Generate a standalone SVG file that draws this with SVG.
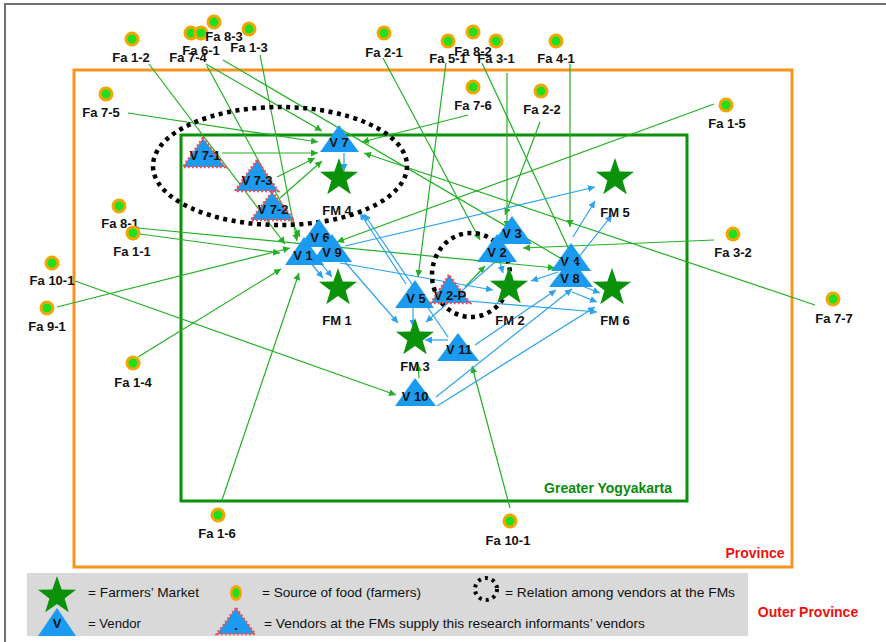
<svg xmlns="http://www.w3.org/2000/svg" width="886" height="642" viewBox="0 0 886 642">
<style>
.fa{font-family:"Liberation Sans",Arial,sans-serif;font-weight:bold;font-size:13px;fill:#111;text-anchor:middle;dominant-baseline:central}
.vt{font-family:"Liberation Sans",Arial,sans-serif;font-weight:bold;font-size:13px;fill:#111;text-anchor:middle;dominant-baseline:central}
.lg{font-family:"Liberation Sans",Arial,sans-serif;font-size:13px;fill:#111;dominant-baseline:central}
.tri{fill:#1A9BF0}
.trip{fill:#1A9BF0;stroke:#F05050;stroke-width:2.5;stroke-dasharray:2 2}
.star{fill:#0A920A}
.g line{stroke:#22B022;stroke-width:1.2;marker-end:url(#ag)}
.b line{stroke:#2AA2F2;stroke-width:1.2;marker-end:url(#ab)}
.ring{fill:none;stroke:#000;stroke-width:4.5;stroke-dasharray:4 4.5}
.do{fill:#F5A500}
.di{fill:#1FE01F}
</style>
<defs>
<marker id="ag" markerUnits="userSpaceOnUse" markerWidth="8" markerHeight="7" refX="7" refY="3.5" orient="auto"><path d="M0,0 L7,3.5 L0,7 Z" fill="#22B022"/></marker>
<marker id="ab" markerUnits="userSpaceOnUse" markerWidth="8" markerHeight="7" refX="7" refY="3.5" orient="auto"><path d="M0,0 L7,3.5 L0,7 Z" fill="#2AA2F2"/></marker>
<path id="st" d="M0,-20 L4.70,-6.47 L19.02,-6.18 L7.61,2.47 L11.76,16.18 L0,8 L-11.76,16.18 L-7.61,2.47 L-19.02,-6.18 L-4.70,-6.47 Z"/>
<g id="dot"><circle r="7.5" class="do"/><circle r="4.5" class="di"/></g>
</defs>
<rect width="886" height="642" fill="#fff"/>
<path d="M5,642 V4 H886" fill="none" stroke="#707070" stroke-width="2"/>
<rect x="74" y="70" width="718" height="497" fill="none" stroke="#F7941D" stroke-width="3"/>
<rect x="181" y="135" width="506" height="366" fill="none" stroke="#0A920A" stroke-width="3"/>
<text x="608" y="488" font-family="Liberation Sans,Arial,sans-serif" font-weight="bold" font-size="14" fill="#0A8A0A" text-anchor="middle" dominant-baseline="central">Greater Yogyakarta</text>
<text x="755" y="553" font-family="Liberation Sans,Arial,sans-serif" font-weight="bold" font-size="14" fill="#F01010" text-anchor="middle" dominant-baseline="central">Province</text>

<g id="connectors">
<g class="g">
<line x1="149" y1="64" x2="285" y2="244"/>
<line x1="206" y1="64" x2="322" y2="131"/>
<line x1="207" y1="66" x2="300" y2="237"/>
<line x1="223" y1="60" x2="567" y2="262"/>
<line x1="260" y1="55" x2="297" y2="241"/>
<line x1="128" y1="113" x2="318" y2="142"/>
<line x1="222" y1="153" x2="318" y2="153"/>
<line x1="277" y1="177" x2="315" y2="158"/>
<line x1="280" y1="198" x2="322" y2="161"/>
<line x1="468" y1="115" x2="362" y2="142"/>
<line x1="815" y1="305" x2="364" y2="153"/>
<line x1="714" y1="104" x2="337" y2="242"/>
<line x1="138" y1="228" x2="555" y2="268"/>
<line x1="140" y1="234" x2="280" y2="253"/>
<line x1="75" y1="281" x2="396" y2="395"/>
<line x1="57" y1="307" x2="290" y2="248"/>
<line x1="138" y1="357" x2="281" y2="269"/>
<line x1="222" y1="500" x2="299" y2="273"/>
<line x1="510" y1="508" x2="472" y2="366"/>
<line x1="383" y1="58" x2="480" y2="240"/>
<line x1="446" y1="63" x2="418" y2="277"/>
<line x1="482" y1="63" x2="573" y2="258"/>
<line x1="507" y1="73" x2="507" y2="228"/>
<line x1="570" y1="64" x2="570" y2="227"/>
<line x1="540" y1="122" x2="505" y2="215"/>
<line x1="714" y1="240" x2="523" y2="248"/>
<line x1="419" y1="378" x2="418" y2="364"/>
<line x1="465" y1="287" x2="485" y2="266"/>
</g>
<g class="b">
<line x1="344" y1="153" x2="344" y2="171"/>
<line x1="406" y1="284" x2="360" y2="213"/>
<line x1="448" y1="337" x2="364" y2="214"/>
<line x1="310" y1="262" x2="323" y2="278"/>
<line x1="320" y1="262" x2="332" y2="277"/>
<line x1="345" y1="246" x2="595" y2="187"/>
<line x1="340" y1="263" x2="493" y2="290"/>
<line x1="413" y1="307" x2="413" y2="327"/>
<line x1="345" y1="262" x2="398" y2="323"/>
<line x1="448" y1="340" x2="425" y2="340"/>
<line x1="436" y1="397" x2="572" y2="289"/>
<line x1="437" y1="406" x2="595" y2="307"/>
<line x1="434" y1="298" x2="597" y2="312"/>
<line x1="500" y1="262" x2="503" y2="273"/>
<line x1="572" y1="282" x2="600" y2="293"/>
<line x1="572" y1="292" x2="597" y2="302"/>
<line x1="578" y1="258" x2="612" y2="215"/>
<line x1="573" y1="237" x2="595" y2="201"/>
<line x1="495" y1="262" x2="426" y2="322"/>
<line x1="558" y1="272" x2="531" y2="281"/>
<line x1="475" y1="345" x2="556" y2="290"/>
</g>
</g>

<g id="ring-v7"><ellipse class="ring" cx="280" cy="166" rx="127" ry="59"/></g>
<g id="ring-v2"><ellipse class="ring" cx="471" cy="275" rx="39" ry="42"/></g>

<g id="FM4"><use href="#st" x="339" y="178" class="star"/><text class="vt" x="337" y="210">FM 4</text></g>
<g id="FM1"><use href="#st" x="338" y="288" class="star"/><text class="vt" x="337" y="320">FM 1</text></g>
<g id="FM5"><use href="#st" x="615" y="178" class="star"/><text class="vt" x="615" y="212">FM 5</text></g>
<g id="FM6"><use href="#st" x="612" y="288" class="star"/><text class="vt" x="615" y="320">FM 6</text></g>
<g id="FM2"><use href="#st" x="509" y="287" class="star"/><text class="vt" x="510" y="320">FM 2</text></g>
<g id="FM3"><use href="#st" x="415" y="338" class="star"/><text class="vt" x="415" y="366">FM 3</text></g>

<g id="V7"><polygon class="tri" points="339,125 320,152 359,152"/><text class="vt" x="339" y="142">V 7</text></g>
<g id="V7-1"><polygon class="trip" points="203,138 183,167 225,167"/><text class="vt" x="205" y="155">V 7-1</text></g>
<g id="V7-3"><polygon class="trip" points="257,160 235,191 278,191"/><text class="vt" x="257" y="180">V 7-3</text></g>
<g id="V7-2"><polygon class="trip" points="272,192 251,220 294,220"/><text class="vt" x="273" y="209">V 7-2</text></g>
<g id="V6"><polygon class="tri" points="319,219 299,247 339,247"/><text class="vt" x="320" y="237">V 6</text></g>
<g id="V1"><polygon class="tri" points="304,237 285,265 324,265"/><text class="vt" x="303" y="255">V 1</text></g>
<g id="V9"><polygon class="tri" points="332,234 312,262 352,262"/><text class="vt" x="332" y="252">V 9</text></g>
<g id="V5"><polygon class="tri" points="415,280 395,308 434,308"/><text class="vt" x="416" y="298">V 5</text></g>
<g id="V2-P"><polygon class="trip" points="449,275 431,303 470,303"/><text class="vt" x="450" y="295">V 2-P</text></g>
<g id="V3"><polygon class="tri" points="512,216 492,244 532,244"/><text class="vt" x="512" y="233">V 3</text></g>
<g id="V2"><polygon class="tri" points="497,234 477,262 517,262"/><text class="vt" x="497" y="252">V 2</text></g>
<g id="V4"><polygon class="tri" points="571,243 551,271 591,271"/><text class="vt" x="570" y="261">V 4</text></g>
<g id="V8"><polygon class="tri" points="571,258 549,287 593,287"/><text class="vt" x="570" y="278">V 8</text></g>
<g id="V11"><polygon class="tri" points="458,333 437,361 479,361"/><text class="vt" x="459" y="349">V 11</text></g>
<g id="V10"><polygon class="tri" points="415,378 395,406 436,406"/><text class="vt" x="415" y="396">V 10</text></g>

<g id="Fa1-2"><use href="#dot" x="132" y="39"/><text class="fa" x="131" y="57">Fa 1-2</text></g>
<g id="Fa7-4"><use href="#dot" x="191" y="33"/><text class="fa" x="188" y="57">Fa 7-4</text></g>
<g id="Fa6-1"><use href="#dot" x="201" y="33"/><text class="fa" x="201" y="50">Fa 6-1</text></g>
<g id="Fa8-3"><use href="#dot" x="214" y="22"/><text class="fa" x="224" y="36">Fa 8-3</text></g>
<g id="Fa1-3"><use href="#dot" x="249" y="29"/><text class="fa" x="249" y="47">Fa 1-3</text></g>
<g id="Fa2-1"><use href="#dot" x="384" y="33"/><text class="fa" x="384" y="52">Fa 2-1</text></g>
<g id="Fa5-1"><use href="#dot" x="448" y="41"/><text class="fa" x="448" y="58">Fa 5-1</text></g>
<g id="Fa8-2"><use href="#dot" x="473" y="32"/><text class="fa" x="473" y="51">Fa 8-2</text></g>
<g id="Fa3-1"><use href="#dot" x="496" y="41"/><text class="fa" x="496" y="58">Fa 3-1</text></g>
<g id="Fa4-1"><use href="#dot" x="556" y="41"/><text class="fa" x="556" y="58">Fa 4-1</text></g>
<g id="Fa7-6"><use href="#dot" x="473" y="87"/><text class="fa" x="473" y="105">Fa 7-6</text></g>
<g id="Fa2-2"><use href="#dot" x="541" y="91"/><text class="fa" x="542" y="109">Fa 2-2</text></g>
<g id="Fa7-5"><use href="#dot" x="106" y="94"/><text class="fa" x="101" y="112">Fa 7-5</text></g>
<g id="Fa1-5"><use href="#dot" x="726" y="105"/><text class="fa" x="727" y="123">Fa 1-5</text></g>
<g id="Fa3-2"><use href="#dot" x="733" y="234"/><text class="fa" x="733" y="252">Fa 3-2</text></g>
<g id="Fa7-7"><use href="#dot" x="833" y="299"/><text class="fa" x="834" y="318">Fa 7-7</text></g>
<g id="Fa8-1"><use href="#dot" x="119" y="206"/><text class="fa" x="120" y="223">Fa 8-1</text></g>
<g id="Fa1-1"><use href="#dot" x="133" y="233"/><text class="fa" x="132" y="251">Fa 1-1</text></g>
<g id="Fa10-1a"><use href="#dot" x="52" y="263"/><text class="fa" x="52" y="280">Fa 10-1</text></g>
<g id="Fa9-1"><use href="#dot" x="47" y="308"/><text class="fa" x="47" y="326">Fa 9-1</text></g>
<g id="Fa1-4"><use href="#dot" x="133" y="363"/><text class="fa" x="133" y="382">Fa 1-4</text></g>
<g id="Fa1-6"><use href="#dot" x="218" y="515"/><text class="fa" x="217" y="533">Fa 1-6</text></g>
<g id="Fa10-1b"><use href="#dot" x="510" y="521"/><text class="fa" x="508" y="540">Fa 10-1</text></g>

<g id="legend">
<rect x="27" y="573" width="721" height="63" fill="#D9D9D9"/>
<use href="#st" x="57" y="596" class="star"/>
<text class="lg" x="88" y="592" textLength="111" lengthAdjust="spacingAndGlyphs">= Farmers’ Market</text>
<ellipse cx="236" cy="593" rx="6" ry="8" class="do"/><ellipse cx="236" cy="593" rx="3.5" ry="5" class="di"/>
<text class="lg" x="262" y="592" textLength="159" lengthAdjust="spacingAndGlyphs">= Source of food (farmers)</text>
<circle cx="486" cy="589" r="11" fill="none" stroke="#000" stroke-width="4" stroke-dasharray="3 4.2"/>
<text class="lg" x="505" y="592" textLength="230" lengthAdjust="spacingAndGlyphs">= Relation among vendors at the FMs</text>
<polygon class="tri" points="57,608 38,636 76,636"/><text class="vt" x="57" y="623" font-size="12">V</text>
<text class="lg" x="88" y="623" textLength="53" lengthAdjust="spacingAndGlyphs">= Vendor</text>
<polygon class="trip" points="236,608 217,634 255,634"/><text class="vt" x="236" y="625">.</text>
<text class="lg" x="264" y="623" textLength="381" lengthAdjust="spacingAndGlyphs">= Vendors at the FMs supply this research informants’ vendors</text>
<text x="808" y="612" font-family="Liberation Sans,Arial,sans-serif" font-weight="bold" font-size="14" fill="#F01010" text-anchor="middle" dominant-baseline="central">Outer Province</text>
</g>
</svg>
